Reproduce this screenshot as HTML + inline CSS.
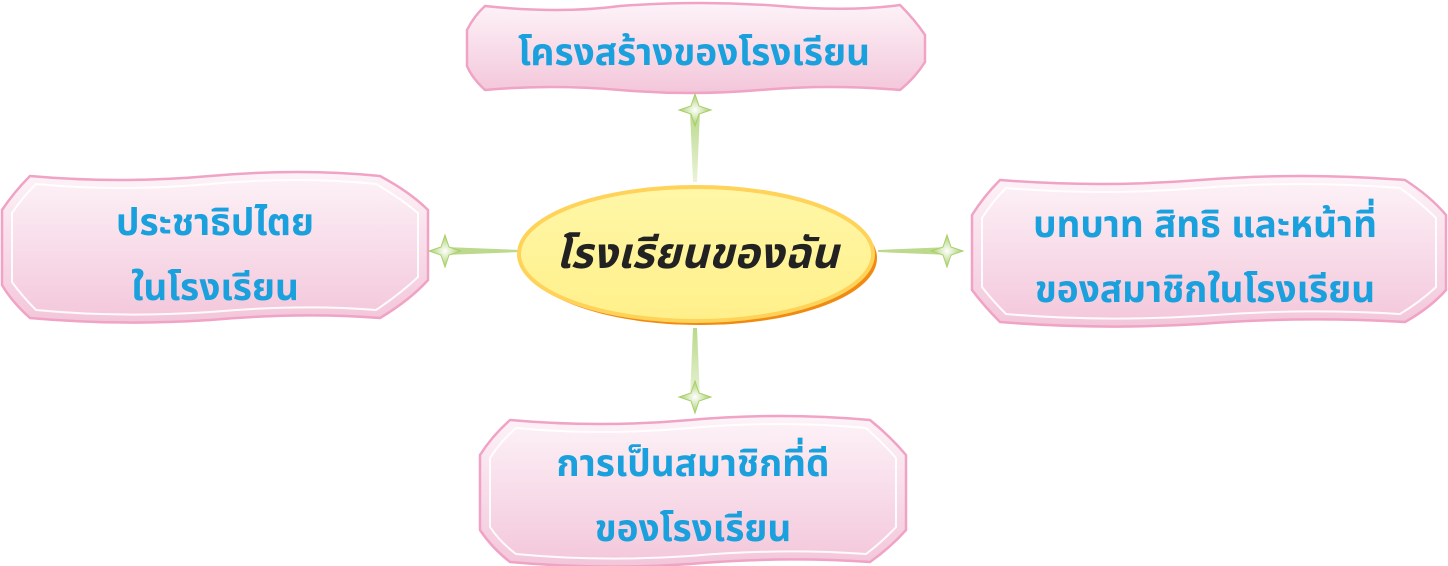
<!DOCTYPE html>
<html><head><meta charset="utf-8">
<style>
html,body{margin:0;padding:0;background:#fff;}
body{width:1448px;height:566px;overflow:hidden;position:relative;}
svg{position:absolute;left:0;top:0;}
text{font-family:"Liberation Sans","Noto Sans Thai","Loma","Garuda","DejaVu Sans",sans-serif;font-weight:bold;}
</style></head><body>
<svg width="1448" height="566" viewBox="0 0 1448 566">
<defs>
<linearGradient id="pk" x1="0" y1="0" x2="0" y2="1">
<stop offset="0" stop-color="#fdf3f8"/><stop offset="1" stop-color="#f3c6da"/>
</linearGradient>
<linearGradient id="yl" x1="0" y1="0" x2="0" y2="1">
<stop offset="0" stop-color="#fff7a8"/><stop offset="1" stop-color="#fff08a"/>
</linearGradient>
<radialGradient id="st"><stop offset="0" stop-color="#fff"/><stop offset="1" stop-color="#a8cf6a"/></radialGradient>
<linearGradient id="gv" x1="0" y1="0" x2="0" y2="1"><stop offset="0" stop-color="#b9d98a"/><stop offset="1" stop-color="#eaf3d8"/></linearGradient>
</defs>

<g stroke="#f0a3c4" stroke-width="2.5" fill="url(#pk)">
<path d="M485,6 Q560,14 620,6 Q700,0 780,6 Q850,12 900,5 Q915,20 925,35 L925,62 Q915,78 900,90 Q830,84 760,90 Q690,96 620,90 Q550,84 485,90 Q472,78 467,66 L467,30 Q474,16 485,6 Z"/>
<path d="M30,176 Q120,184 210,176 Q300,168 380,176 Q410,192 428,210 L428,280 Q410,300 380,318 Q300,312 210,320 Q120,326 30,318 Q12,302 2,285 L2,210 Q14,192 30,176 Z"/>
<path d="M1000,180 Q1100,188 1200,180 Q1300,172 1405,180 Q1430,196 1446,215 L1446,290 Q1430,308 1405,322 Q1300,316 1200,324 Q1100,330 1000,322 Q984,306 972,290 L972,215 Q984,196 1000,180 Z"/>
<path d="M510,420 Q600,428 690,420 Q780,412 870,420 Q890,436 906,455 L906,530 Q890,548 870,562 Q780,556 690,564 Q600,570 510,562 Q492,548 480,530 L480,455 Q492,436 510,420 Z"/>
</g>
<g stroke="#fff" stroke-width="2" fill="none" opacity="0.9">
<path d="M36,184 Q120,192 210,184 Q300,176 376,184 Q400,198 418,213 L418,277 Q400,294 376,310 Q300,304 210,312 Q120,318 36,310 Q22,296 12,282 L12,213 Q22,198 36,184 Z"/>
<path d="M1006,188 Q1100,196 1200,188 Q1300,180 1400,188 Q1420,202 1436,218 L1436,287 Q1420,302 1400,314 Q1300,308 1200,316 Q1100,322 1006,314 Q992,300 982,287 L982,218 Q992,202 1006,188 Z"/>
<path d="M516,428 Q600,436 690,428 Q780,420 866,428 Q882,442 896,458 L896,527 Q882,542 866,554 Q780,548 690,556 Q600,562 516,554 Q500,542 490,527 L490,458 Q500,442 516,428 Z"/>
</g>

<polygon points="690,110 700,110 697,182 693,182" fill="url(#gv)"/>
<polygon points="690,398 700,398 697,328 693,328" fill="url(#gv)"/>
<polygon points="445,247 445,255 520,252 520,250" fill="#bcd98e"/>
<polygon points="950,247 950,255 878,252 878,250" fill="#bcd98e"/>
<g fill="url(#st)" stroke="#a8cf6a" stroke-width="1">
<path d="M695,94 L699,106 L711,110 L699,114 L695,126 L691,114 L679,110 L691,106 Z"/>
<path d="M695,381 L699,393 L711,397 L699,401 L695,413 L691,401 L679,397 L691,393 Z"/>
<path d="M445,235 L449,247 L461,251 L449,255 L445,267 L441,255 L429,251 L441,247 Z"/>
<path d="M947,235 L951,247 L963,251 L951,255 L947,267 L943,255 L931,251 L943,247 Z"/>
</g>

<ellipse cx="700" cy="258" rx="177" ry="67" fill="#f08a10"/>
<ellipse cx="696" cy="254" rx="177" ry="67" fill="url(#yl)" stroke="#ffd25a" stroke-width="4"/>
<text x="697" y="268" text-anchor="middle" font-size="43" fill="#222" font-style="italic">โรงเรียนของฉัน</text>

<g fill="#1aa0dc" font-size="37" text-anchor="middle">
<text x="694" y="65">โครงสร้างของโรงเรียน</text>
<text x="215" y="235">ประชาธิปไตย</text>
<text x="215" y="300">ในโรงเรียน</text>
<text x="1205" y="237">บทบาท สิทธิ และหน้าที่</text>
<text x="1205" y="302">ของสมาชิกในโรงเรียน</text>
<text x="693" y="476">การเป็นสมาชิกที่ดี</text>
<text x="693" y="541">ของโรงเรียน</text>
</g>
</svg>
</body></html>
